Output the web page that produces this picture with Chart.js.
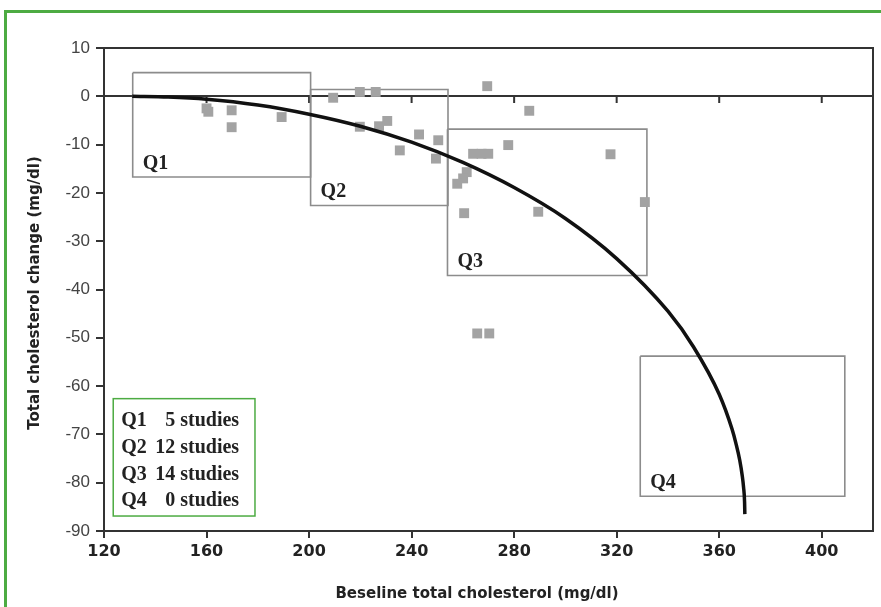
<!DOCTYPE html>
<html>
<head>
<meta charset="utf-8">
<script src="https://cdn.jsdelivr.net/npm/chart.js@4.4.0/dist/chart.umd.min.js"></script>
<style>
  html, body { margin: 0; padding: 0; background: #fff; }
  #wrap { width: 881px; height: 607px; position: relative; }
</style>
</head>
<body>
<div id="wrap"><canvas id="chol-chart"></canvas></div>
<script>
// studies (baseline total cholesterol vs change)
const ptX = [160.0, 160.7, 169.8, 169.8, 189.3,
             209.4, 219.8, 226.0, 219.8, 227.3, 230.5, 242.9, 250.4, 235.4, 249.5,
             269.5, 285.9, 264.0, 267.3, 269.9, 277.7, 317.6, 331.0, 261.5, 260.1, 257.8, 260.5, 289.4, 265.6, 270.3];
const ptY = [-2.5, -3.2, -2.9, -6.4, -4.3,
             -0.3, 0.9, 0.9, -6.3, -6.2, -5.1, -7.9, -9.1, -11.2, -12.9,
             2.1, -3.0, -11.9, -11.9, -11.9, -10.1, -12.0, -21.9, -15.7, -17.0, -18.1, -24.2, -23.9, -49.1, -49.1];

// fitted curve
const curveX = [131, 145, 160, 180, 200, 220, 240, 260, 280, 300, 320, 340, 350, 360, 365, 366.5, 368, 369, 369.5, 369.9, 370];
const curveY = [0, -0.15, -0.6, -1.8, -3.7, -6.2, -9.5, -13.7, -18.9, -25.3, -33.6, -44.5, -51.9, -61.7, -68.9, -71.8, -75.3, -78.6, -80.9, -84.0, -86.5];

// quartile boxes: [left, right, top, bottom]
const boxNames = ['Q1', 'Q2', 'Q3', 'Q4'];
const boxes = [
    [131.2, 200.6, 4.9, -16.7],
    [200.6, 254.2, 1.4, -22.6],
    [254.0, 331.8, -6.8, -37.1],
    [329.2, 409.0, -53.8, -82.8]
];
const studyCounts = [5, 12, 14, 0];

const xTicks = [120, 160, 200, 240, 280, 320, 360, 400];
const yTicks = [10, 0, -10, -20, -30, -40, -50, -60, -70, -80, -90];

const xTitle = 'Beseline total cholesterol (mg/dl)';
const yTitle = 'Total cholesterol change (mg/dl)';

const GREEN = '#4dab42';
const AXIS = '#333';

const points = ptX.map((x, i) => ({x: x, y: ptY[i]}));
const curve = curveX.map((x, i) => ({x: x, y: curveY[i]}));

const boxSets = boxes.map((b, i) => ({
    label: boxNames[i],
    data: [{x: b[0], y: b[2]}, {x: b[1], y: b[2]}, {x: b[1], y: b[3]}, {x: b[0], y: b[3]}, {x: b[0], y: b[2]}],
    showLine: true,
    tension: 0,
    borderColor: '#8c8c8c',
    borderWidth: 1.6,
    pointRadius: 0,
    fill: false
}));

// frame, zero line, labels, legend box and axis titles
const extras = {
    id: 'extras',
    beforeDatasetsDraw(chart) {
        const ctx = chart.ctx;
        const a = chart.chartArea;
        const xs = chart.scales.x, ys = chart.scales.y;
        ctx.save();
        ctx.strokeStyle = AXIS;
        ctx.lineWidth = 2;
        // top + right border
        ctx.beginPath();
        ctx.moveTo(a.left, a.top);
        ctx.lineTo(a.right, a.top);
        ctx.lineTo(a.right, a.bottom);
        ctx.stroke();
        // zero line with ticks
        const y0 = Math.round(ys.getPixelForValue(0));
        ctx.beginPath();
        ctx.moveTo(a.left, y0);
        ctx.lineTo(a.right, y0);
        xTicks.slice(1).forEach(v => {
            const px = xs.getPixelForValue(v);
            ctx.moveTo(px, y0);
            ctx.lineTo(px, y0 + 7);
        });
        ctx.stroke();
        ctx.restore();
    },
    afterDraw(chart) {
        const ctx = chart.ctx;
        const xs = chart.scales.x, ys = chart.scales.y;
        ctx.save();

        // green page frame
        ctx.strokeStyle = GREEN;
        ctx.lineWidth = 3;
        ctx.beginPath();
        ctx.moveTo(5.5, 607);
        ctx.lineTo(5.5, 11.5);
        ctx.lineTo(881, 11.5);
        ctx.stroke();

        // box labels
        ctx.fillStyle = '#222';
        ctx.font = 'bold 20px "Liberation Serif"';
        ctx.textAlign = 'left';
        ctx.textBaseline = 'alphabetic';
        boxes.forEach((b, i) => {
            ctx.fillText(boxNames[i], xs.getPixelForValue(b[0]) + 10, ys.getPixelForValue(b[3]) - 8);
        });

        // legend box
        const lx = xs.getPixelForValue(123.6), rx = xs.getPixelForValue(178.9);
        const ty = ys.getPixelForValue(-62.6), by = ys.getPixelForValue(-86.9);
        ctx.fillStyle = '#fff';
        ctx.fillRect(lx, ty, rx - lx, by - ty);
        ctx.strokeStyle = GREEN;
        ctx.lineWidth = 1.5;
        ctx.strokeRect(lx, ty, rx - lx, by - ty);
        ctx.fillStyle = '#222';
        ctx.font = 'bold 20px "Liberation Serif"';
        boxNames.forEach((n, i) => {
            const yy = ty + 27.5 + i * 26.7;
            ctx.textAlign = 'left';
            ctx.fillText(n, lx + 8, yy);
            ctx.textAlign = 'right';
            ctx.fillText(String(studyCounts[i]), lx + 62, yy);
            ctx.textAlign = 'left';
            ctx.fillText('studies', lx + 67, yy);
        });

        // axis titles
        ctx.fillStyle = '#222';
        ctx.font = 'bold 15px "DejaVu Sans"';
        ctx.textAlign = 'center';
        ctx.textBaseline = 'middle';
        ctx.fillText(xTitle, 477, 594);
        ctx.translate(35, 293);
        ctx.rotate(-Math.PI / 2);
        ctx.fillText(yTitle, 0, 0);
        ctx.restore();
    }
};

const config = {
    type: 'scatter',
    data: {
        datasets: [{
            label: 'Curve',
            data: curve,
            showLine: true,
            borderColor: '#111',
            borderWidth: 3.5,
            pointRadius: 0,
            cubicInterpolationMode: 'monotone',
            fill: false
        }, {
            label: 'Studies',
            data: points,
            pointStyle: 'rect',
            pointRadius: 7,
            backgroundColor: '#a3a3a3',
            borderWidth: 0
        }].concat(boxSets)
    },
    options: {
        responsive: true,
        maintainAspectRatio: false,
        animation: false,
        layout: { padding: { top: 48, right: 8, left: 0, bottom: 0 } },
        plugins: {
            legend: { display: false },
            tooltip: { enabled: false }
        },
        scales: {
            x: {
                type: 'linear',
                min: 120,
                max: 420,
                afterBuildTicks: s => { s.ticks = xTicks.map(v => ({value: v})); },
                afterFit: s => { s.height = 76; },
                grid: { drawOnChartArea: false, drawTicks: true, tickLength: 7, color: AXIS, lineWidth: 2 },
                border: { display: true, color: AXIS, width: 2 },
                ticks: { color: '#222', padding: 4, maxRotation: 0,
                         font: { family: 'DejaVu Sans', weight: 'bold', size: 16 } }
            },
            y: {
                type: 'linear',
                min: -90,
                max: 10,
                afterBuildTicks: s => { s.ticks = yTicks.map(v => ({value: v})); },
                afterFit: s => { s.width = 104; },
                grid: { drawOnChartArea: false, drawTicks: true, tickLength: 8, color: AXIS, lineWidth: 2 },
                border: { display: true, color: AXIS, width: 2 },
                ticks: { color: '#444', padding: 6,
                         font: { family: 'Liberation Sans', size: 17 } }
            }
        }
    },
    plugins: [extras]
};

const cholChart = new Chart(document.getElementById('chol-chart'), config);
</script>
</body>
</html>
